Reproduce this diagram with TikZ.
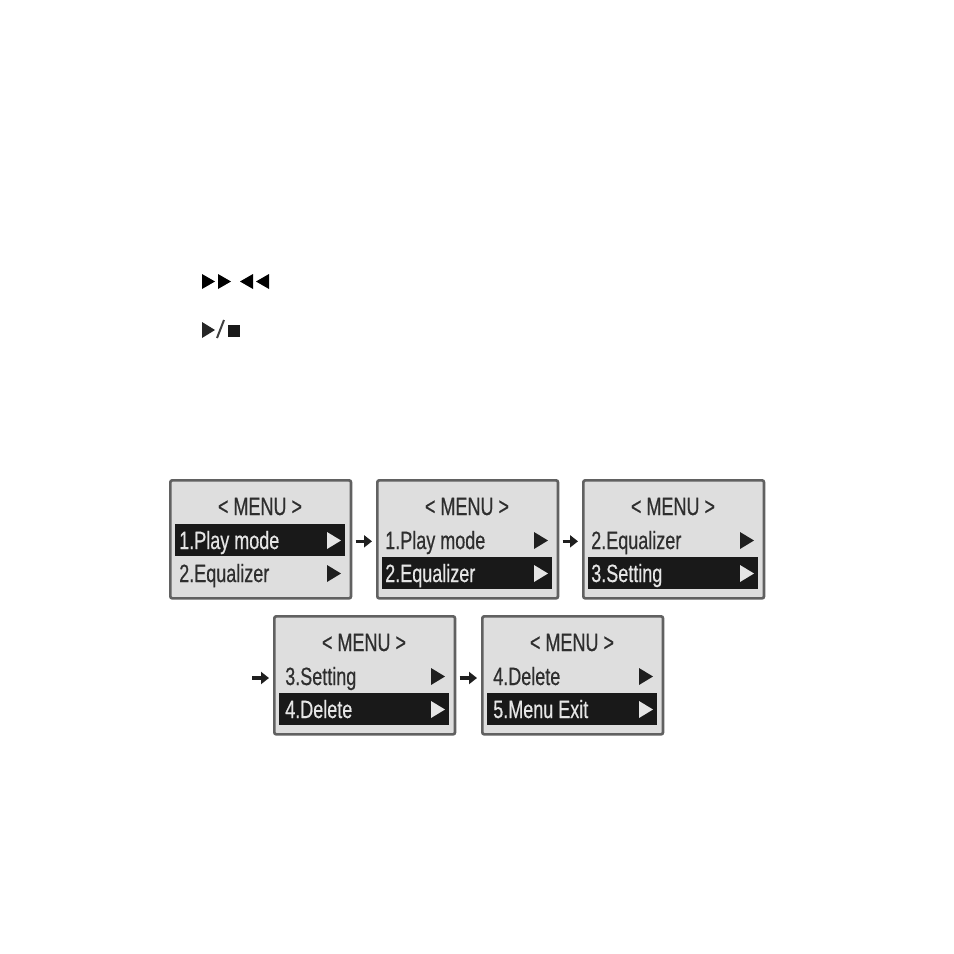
\documentclass[tikz,border=0pt]{standalone}
\usepackage{fontspec}
\setmainfont{Liberation Sans}
\newfontfamily\lcdfont[FakeStretch=0.72,FakeBold=0.5]{Liberation Sans}
\usetikzlibrary{arrows.meta}
\tikzset{
  x=0.75pt,y=-0.75pt,
  lcd/.style={draw=black!62,line width=2pt,fill=black!13,rounded corners=1.5pt,minimum width=135.5pt,minimum height=88.5pt,inner sep=0pt,anchor=north west},
  bar/.style={fill=black!90,draw=none,minimum width=127pt,minimum height=24pt,inner sep=0pt,anchor=north west},
  lcdtext/.style={font=\lcdfont\fontsize{18.75}{20}\selectfont,text=black!82,inner sep=0pt,anchor=base west},
  lcdhead/.style={lcdtext,anchor=base},
  hilite/.style={lcdtext,text=white!90!black},
  stepflow/.style={-{Triangle[length=6pt,width=9pt]},line width=2.6pt,black!88,shorten <=2.5pt,shorten >=3pt},
}
% name, x, y, row 1 text, row 2 text, highlighted row (1 or 2), text inset
\newcommand{\menubox}[7]{%
  \node[lcd] (#1) at (#2,#3) {};
  \ifnum#6=1
    \node[bar] (#1bar) at (#2+6,#3+45) {};
    \node[hilite] (#1r) at (#2+#7,#3+70) {#4};
    \node[lcdtext] (#1s) at (#2+#7,#3+103) {#5};
    \fill[white!90!black] (#2+158,#3+53) -- (#2+172,#3+61.5) -- (#2+158,#3+70) -- cycle;
    \fill[black!88] (#2+158,#3+86) -- (#2+172,#3+94.5) -- (#2+158,#3+103) -- cycle;
  \else
    \node[bar] (#1bar) at (#2+6,#3+78) {};
    \node[lcdtext] (#1r) at (#2+#7,#3+70) {#4};
    \node[hilite] (#1s) at (#2+#7,#3+103) {#5};
    \fill[black!88] (#2+158,#3+53) -- (#2+172,#3+61.5) -- (#2+158,#3+70) -- cycle;
    \fill[white!90!black] (#2+158,#3+86) -- (#2+172,#3+94.5) -- (#2+158,#3+103) -- cycle;
  \fi
  \node[lcdhead] (#1h) at (#2+91,#3+36) {< MENU >};
}
\begin{document}
\begin{tikzpicture}
\useasboundingbox (0,0) rectangle (954,954);
\fill[white] (0,0) rectangle (954,954);
% transport symbols
\fill[black] (202,274) -- (215,281.5) -- (202,289) -- cycle;
\fill[black] (218,274) -- (231,281.5) -- (218,289) -- cycle;
\fill[black] (253,274) -- (240,281.5) -- (253,289) -- cycle;
\fill[black] (269,274) -- (256,281.5) -- (269,289) -- cycle;
\fill[black!85] (202,322) -- (215,330) -- (202,338) -- cycle;
\draw[black!75,line width=1.5pt] (217,338) -- (224,320);
\fill[black!90] (228,325) rectangle (240,337);
% screens
\menubox{a}{169}{479}{1.Play mode}{2.Equalizer}{1}{10}
\menubox{b}{376}{479}{1.Play mode}{2.Equalizer}{2}{9}
\menubox{c}{582}{479}{2.Equalizer}{3.Setting}{2}{9}
\menubox{d}{273}{615}{3.Setting}{4.Delete}{2}{12}
\menubox{e}{481}{615}{4.Delete}{5.Menu Exit}{2}{12}
% connectors
\coordinate (free) at (249,678);
\draw[stepflow] ([yshift=-1.5pt]a.east) -- ([yshift=-1.5pt]b.west);
\draw[stepflow] ([yshift=-1.5pt]b.east) -- ([yshift=-1.5pt]c.west);
\draw[stepflow] (free) -- (free -| d.west);
\draw[stepflow] ([yshift=-2pt]d.east) -- ([yshift=-2pt]e.west);
\end{tikzpicture}
\end{document}
